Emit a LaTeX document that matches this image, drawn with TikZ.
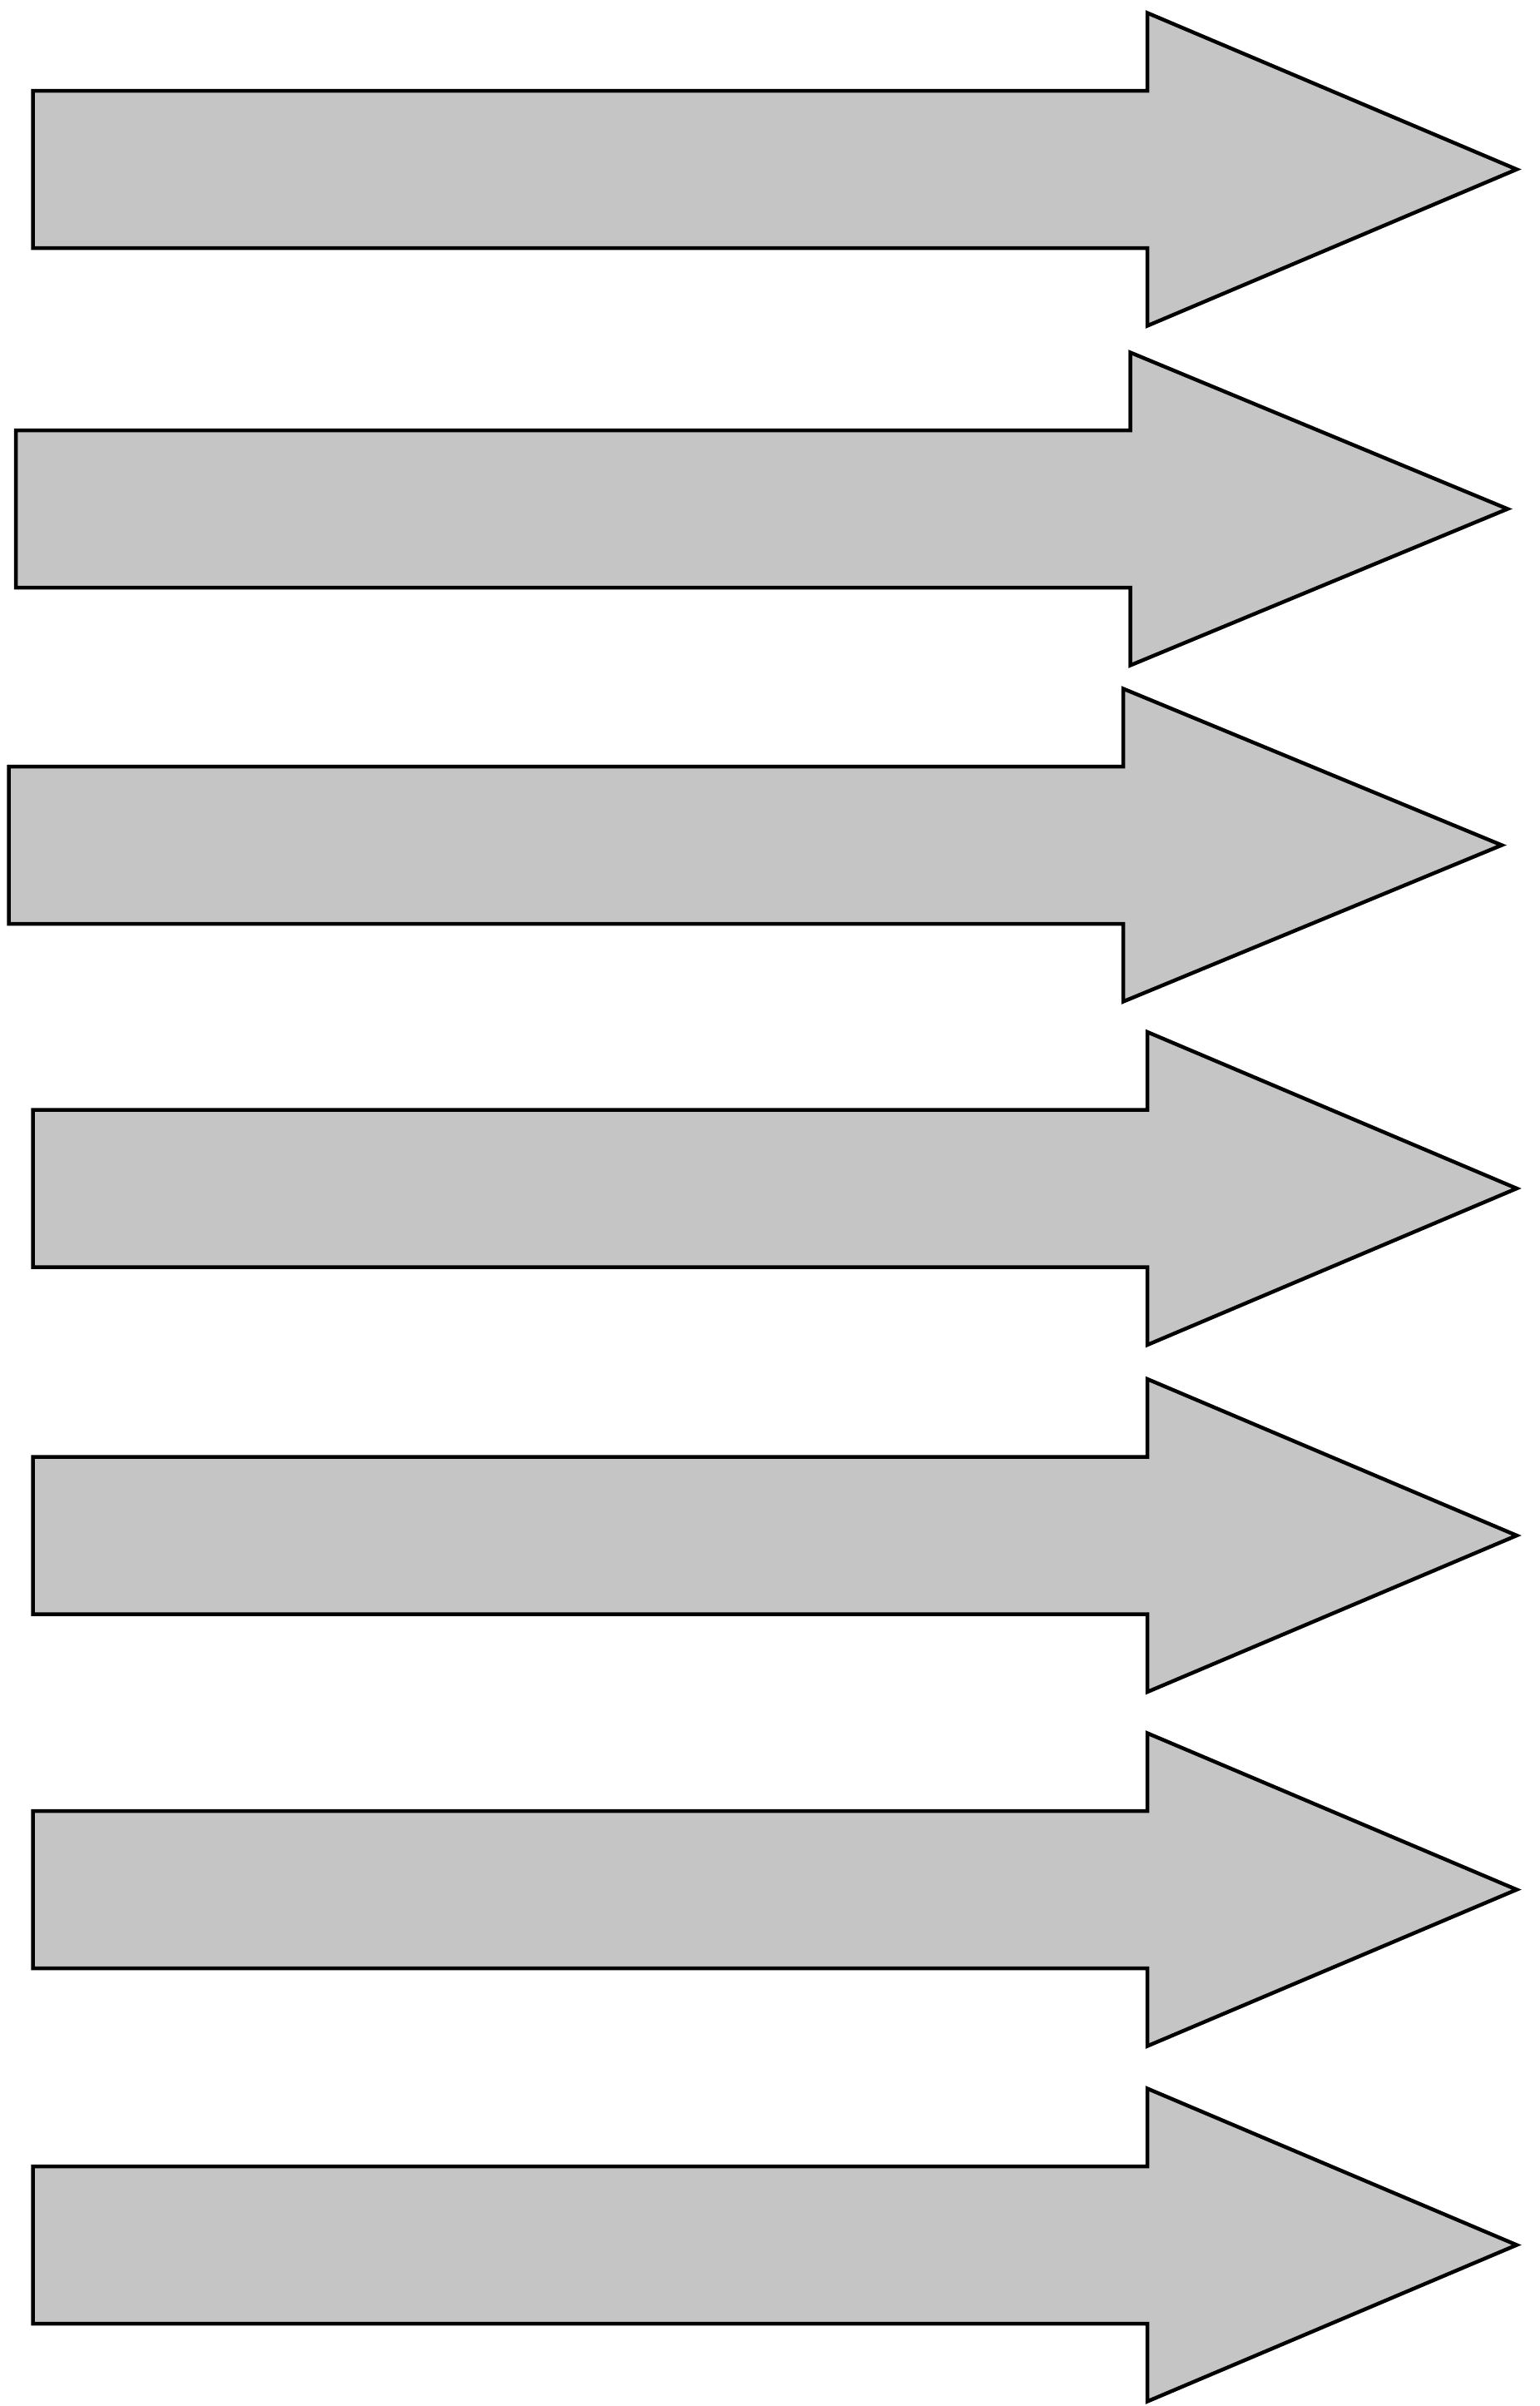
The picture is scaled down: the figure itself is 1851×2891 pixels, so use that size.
\documentclass[tikz,border=0pt]{standalone}
\definecolor{arrowgray}{RGB}{197,197,197}
\tikzset{
  bigarrow/.style={draw=black, fill=arrowgray, line width=4.5pt, line join=miter, miter limit=10}
}
\begin{document}
\begin{tikzpicture}[x=1pt, y=-1pt]
\useasboundingbox (0,0) rectangle (1851,2891);
\fill[white] (0,0) rectangle (1851,2891);
\foreach \dx/\tx/\cy in {0/0/203.5, -20.5/-11/611.5, -29/-18/1015.5, 0/0/1428, 0/0/1845, 0/0/2270.5, 0/0/2697.5}{
  \draw[bigarrow]
    ({39.5+\dx},{\cy-94.5}) -- ({1379+\dx},{\cy-94.5}) -- ({1379+\dx},{\cy-188})
    -- ({1823+\tx},\cy) -- ({1379+\dx},{\cy+188}) -- ({1379+\dx},{\cy+94.5})
    -- ({39.5+\dx},{\cy+94.5}) -- cycle;
}
\end{tikzpicture}
\end{document}
